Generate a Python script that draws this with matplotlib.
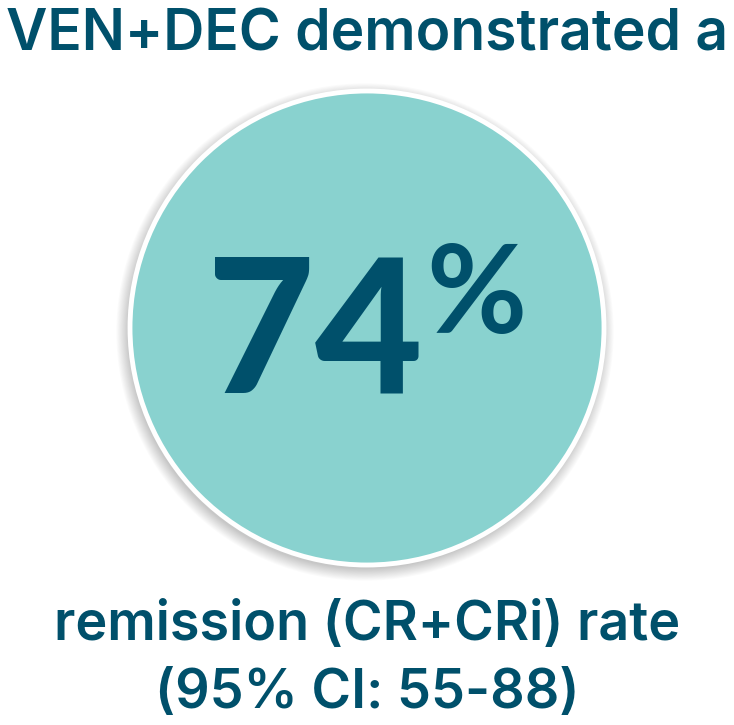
import matplotlib
matplotlib.use("Agg")
import matplotlib.pyplot as plt
from matplotlib.patches import Circle

# ---- content ----
title = "VEN+DEC demonstrated a"
value = "74"
unit = "%"
caption = ["remission (CR+CRi) rate", "(95% CI: 55-88)"]

TEXT = "#00506b"
FILL = "#89d2cf"
FONT = "Inter"

W, H = 734, 725
fig = plt.figure(figsize=(W/100, H/100), dpi=100)
ax = fig.add_axes([0, 0, 1, 1])
ax.set_xlim(0, W); ax.set_ylim(H, 0); ax.set_aspect("equal"); ax.axis("off")

cx, cy, r = 367, 328, 237
# soft drop shadow
for i in range(14):
    ax.add_patch(Circle((cx - 2, cy + 4), r + i * 0.9, color="black", alpha=0.014, lw=0))
ax.add_patch(Circle((cx, cy), r, facecolor=FILL, edgecolor="white", lw=3.5))

ax.text(W/2, 50, title, ha="center", va="baseline", fontsize=41, color=TEXT,
        family=FONT, weight="semibold")
ax.text(423, 392, value, ha="right", va="baseline", fontsize=134, color=TEXT,
        family="Lato", weight="black")
ax.text(426, 333, unit, ha="left", va="baseline", fontsize=88, color=TEXT,
        family="Lato", weight="bold")
ax.text(W/2, 640, caption[0], ha="center", va="baseline", fontsize=38.8, color=TEXT,
        family=FONT, weight="semibold")
ax.text(W/2, 708, caption[1], ha="center", va="baseline", fontsize=38.8, color=TEXT,
        family=FONT, weight="semibold")

fig.savefig("out.png", dpi=100, facecolor="white")
